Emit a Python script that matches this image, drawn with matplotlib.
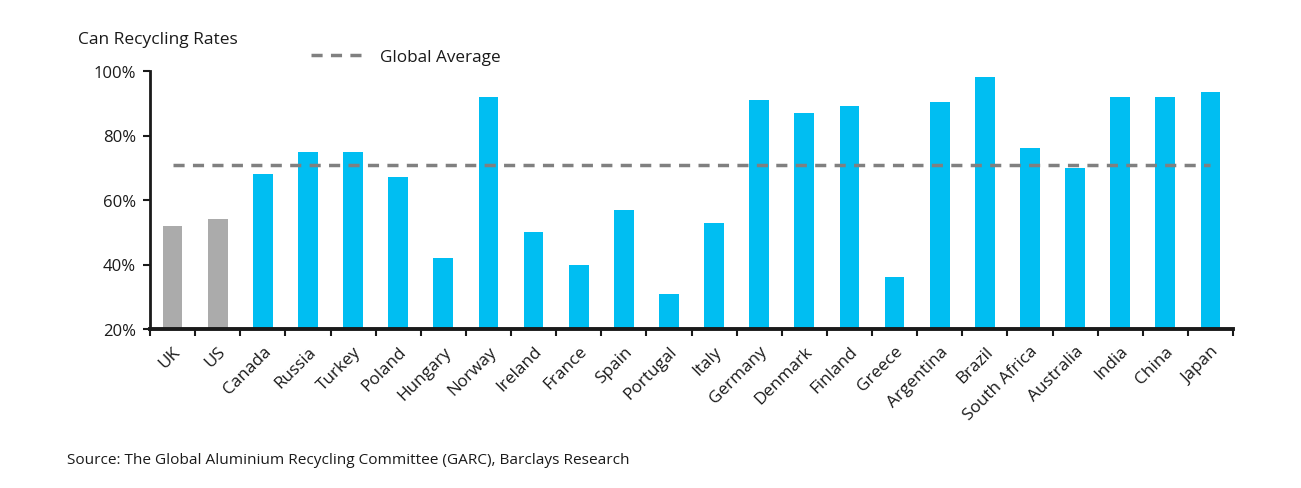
import matplotlib
matplotlib.use('Agg')
import matplotlib.pyplot as plt
import numpy as np

countries = ['UK', 'US', 'Canada', 'Russia', 'Turkey', 'Poland', 'Hungary', 'Norway',
             'Ireland', 'France', 'Spain', 'Portugal', 'Italy', 'Germany', 'Denmark',
             'Finland', 'Greece', 'Argentina', 'Brazil', 'South Africa', 'Australia',
             'India', 'China', 'Japan']
rates = [52, 54, 68, 75, 75, 67, 42, 92, 50, 40, 57, 31, 53, 91, 87, 89, 36, 90.5,
         98, 76, 70, 92, 92, 93.5]
highlight = ['UK', 'US']
global_average = 71
y_ticks = [20, 40, 60, 80, 100]

BLUE = '#00BEF2'
GREY = '#ABABAB'
TEXT = '#1a1a1a'

plt.rcParams['font.family'] = ['Open Sans', 'DejaVu Sans']
plt.rcParams['font.size'] = 12

fig = plt.figure(figsize=(13.01, 4.89), dpi=100)
ax = fig.add_axes([150 / 1301, 1 - 330 / 489, 1083 / 1301, 258 / 489])

x = np.arange(len(countries))
colors = [GREY if c in highlight else BLUE for c in countries]
ax.bar(x, [r - 20 for r in rates], bottom=20, width=0.44, color=colors, zorder=2)
avg_line, = ax.plot(x, [global_average] * len(x), color='#808080', lw=2.5,
                    dashes=(3.2, 2.4), zorder=3)

ax.set_xlim(-0.5, len(countries) - 0.5)
ax.set_ylim(20, 100)
ax.set_yticks(y_ticks)
ax.set_yticklabels([f'{v}%' for v in y_ticks], fontsize=12, color=TEXT)

ax.set_xticks(x)
ax.set_xticklabels(countries, rotation=45, ha='right', rotation_mode='anchor',
                   fontsize=12.3, color=TEXT)
ax.tick_params(axis='x', which='major', length=0, pad=10)
ax.set_xticks(np.arange(-0.5, len(countries) + 0.5, 1), minor=True)
ax.tick_params(axis='x', which='minor', length=5, width=1.5, color=TEXT, direction='out')
ax.tick_params(axis='y', length=5, width=1.5, color=TEXT, pad=5)

for s in ['top', 'right']:
    ax.spines[s].set_visible(False)
ax.spines['left'].set_linewidth(2)
ax.spines['bottom'].set_linewidth(2.8)
ax.spines['left'].set_color(TEXT)
ax.spines['bottom'].set_color(TEXT)

fig.legend([avg_line], ['Global Average'], loc='center left',
           bbox_to_anchor=(296 / 1301, 1 - 58 / 489), frameon=False,
           fontsize=12.3, handlelength=3.1, handletextpad=0.9, labelcolor=TEXT)

fig.text(78 / 1301, 1 - 40 / 489, 'Can Recycling Rates', fontsize=12.5, color=TEXT,
         va='center', ha='left')
fig.text(67 / 1301, 1 - 461 / 489,
         'Source: The Global Aluminium Recycling Committee (GARC), Barclays Research',
         fontsize=11.1, color=TEXT, va='center', ha='left')

fig.savefig('out.png', dpi=100)
